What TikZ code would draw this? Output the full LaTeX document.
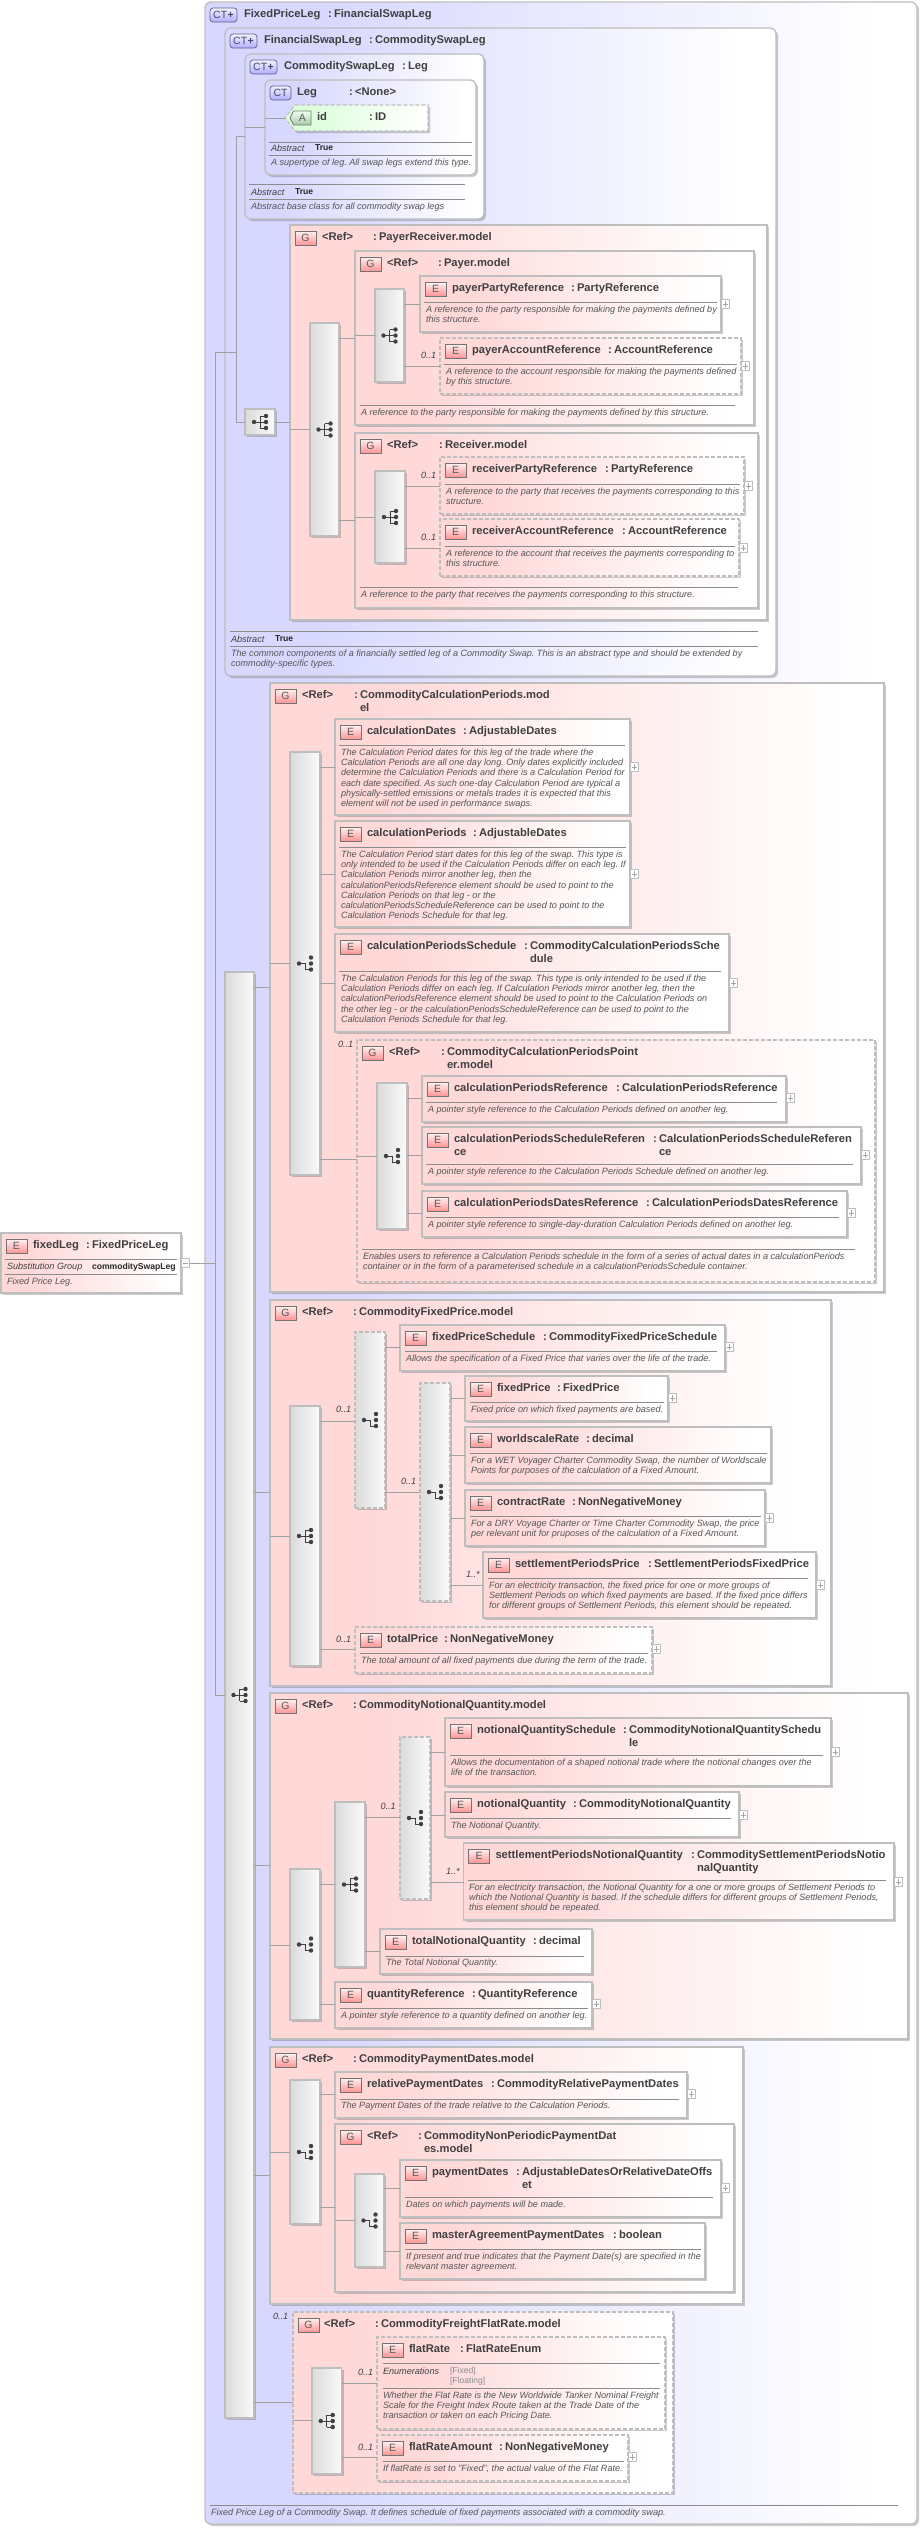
\documentclass[tikz,border=0pt]{standalone}
\usepackage{fontspec}
\setmainfont{Liberation Sans}
\usetikzlibrary{shadows,shapes.symbols}

\definecolor{violettint}{HTML}{D8D8FF}
\definecolor{rosetint}{HTML}{FFD8D8}
\definecolor{greentint}{HTML}{DCFFDC}
\definecolor{panelline}{HTML}{BEBEBE}
\definecolor{wireline}{HTML}{A0A0A0}
\definecolor{inktext}{HTML}{404040}
\definecolor{doctext}{HTML}{555555}
\definecolor{ctline}{HTML}{606088}
\definecolor{ctink}{HTML}{484868}
\pgfdeclarehorizontalshading{violetfade}{100bp}{color(0bp)=(violettint); color(33bp)=(violettint); color(72bp)=(white); color(100bp)=(white)}
\pgfdeclarehorizontalshading{rosefade}{100bp}{color(0bp)=(rosetint); color(33bp)=(rosetint); color(72bp)=(white); color(100bp)=(white)}
\pgfdeclarehorizontalshading{greenfade}{100bp}{color(0bp)=(greentint); color(33bp)=(greentint); color(75bp)=(white); color(100bp)=(white)}
\pgfdeclarehorizontalshading{greyfade}{100bp}{color(0bp)=(black!14); color(25bp)=(black!14); color(75bp)=(black!2); color(100bp)=(black!2)}

\tikzset{
  softshadow/.style={drop shadow={shadow xshift=2pt, shadow yshift=-2pt, fill=black, opacity=.2}},
  ctpanel/.style={draw=panelline, line width=1.3pt, rounded corners=6pt, shading=violetfade, softshadow, inner sep=0pt, outer sep=0pt},
  grouppanel/.style={draw=panelline, line width=1.3pt, shading=rosefade, softshadow, inner sep=0pt, outer sep=0pt},
  elempanel/.style={draw=panelline, line width=1.1pt, shading=rosefade, softshadow, inner sep=0pt, outer sep=0pt},
  optpanel/.style={elempanel, dash pattern=on 4pt off 2pt},
  optgroup/.style={grouppanel, dash pattern=on 4pt off 2pt},
  seqbox/.style={draw=panelline, line width=1.1pt, shading=greyfade, softshadow, inner sep=0pt, outer sep=0pt},
  optseq/.style={seqbox, dash pattern=on 4pt off 2pt},
  attrspot/.style={inner sep=0pt, outer sep=0pt},
  attrpanel/.style={shape=signal, signal to=west, signal pointer angle=105, draw=panelline, line width=1.1pt, dash pattern=on 4pt off 2pt, shading=greenfade, softshadow, inner sep=0pt, outer sep=0pt},
  badge/.style={anchor=north west, inner sep=0pt, outer sep=0pt, minimum height=14pt, draw=black!55, line width=.7pt, text=black!65, font=\fontsize{10.5}{11}\selectfont},
  ebadge/.style={badge, minimum width=21pt, top color=red!5, bottom color=red!42},
  ctbadge/.style={badge, minimum width=21pt, rounded corners=3pt, draw=ctline, text=ctink, top color=blue!5, bottom color=blue!32},
  ctplusbadge/.style={ctbadge, minimum width=27pt},
  abadge/.style={badge, shape=signal, signal to=west, signal pointer angle=127, minimum width=21pt, xshift=3.5pt, top color=green!5, bottom color=green!40!black!35!white},
  boxtitle/.style={anchor=base west, inner sep=0pt, outer sep=0pt, text=inktext, font=\fontsize{11.2}{12.7}\selectfont\bfseries},
  doctxt/.style={anchor=north west, align=left, inner sep=0pt, outer sep=0pt, text=doctext, font=\fontsize{9.1}{10.2}\selectfont\itshape},
  metatxt/.style={anchor=west, inner sep=0pt, outer sep=0pt, text=inktext, font=\fontsize{9.1}{10.2}\selectfont\itshape},
  metabold/.style={anchor=west, inner sep=0pt, outer sep=0pt, text=black!85, font=\fontsize{8.6}{10}\selectfont\bfseries},
  enumtxt/.style={anchor=west, inner sep=0pt, outer sep=0pt, text=black!45, font=\fontsize{8.6}{10}\selectfont},
  docrule/.style={draw=black!45, line width=.7pt},
  wire/.style={draw=wireline, line width=.7pt},
  expandbox/.style={anchor=west, draw=panelline, line width=.7pt, fill=white, minimum size=8.6pt, inner sep=0pt, outer sep=0pt,
    path picture={\draw[black!35, line width=.5pt] ([xshift=1.5pt]path picture bounding box.west) -- ([xshift=-1.5pt]path picture bounding box.east)
      ([yshift=-1.5pt]path picture bounding box.north) -- ([yshift=1.5pt]path picture bounding box.south);}},
  collapsebox/.style={anchor=west, draw=panelline, line width=.7pt, fill=white, minimum size=8.6pt, inner sep=0pt, outer sep=0pt,
    path picture={\draw[black!35, line width=.5pt] ([xshift=1.5pt]path picture bounding box.west) -- ([xshift=-1.5pt]path picture bounding box.east);}},
  fulltree/.pic={
    \fill[inktext] (-6,0) circle (2.2) (6,-6) circle (2.2) (6,0) circle (2.2) (6,6) circle (2.2);
    \draw[inktext, line width=.7pt] (-6,0) -- (0,0) (0,-6) -- (0,6) (0,-6) -- (6,-6) (0,0) -- (6,0) (0,6) -- (6,6);
  },
  lowertree/.pic={
    \fill[inktext] (-6,0) circle (2.2) (6,-6) circle (2.2) (6,0) circle (2.2) (6,6) circle (2.2);
    \draw[inktext, line width=.7pt] (-6,0) -- (0,0) -- (0,6) -- (6,6);
  },
}

\newcommand{\boxpanel}[6]{\node[#1, minimum width={(#5-#3)*1pt}, minimum height={(#6-#4)*1pt}, anchor=north west] (#2) at (#3,#4) {};}
\newcommand{\seqpanel}[7]{\boxpanel{#1}{#2}{#3}{#4}{#5}{#6}\pic at (#2.center) {#7};}
\newcommand{\boxhead}[7]{%
  \node[#2] (#1-icon) at ([shift={(5,6)}]#1.north west) {#3};
  \node[boxtitle] (#1-name) at ([shift={(#4,15.5)}]#1.north west) {#5};
  \node[boxtitle] (#1-colon) at (#1-name.base -| #6,0) {:};
  \node[boxtitle] (#1-type) at (#1-name.base -| #6+6,0) {#7};}
\newcommand{\boxwrap}[3]{\node[boxtitle] (#1) at ([yshift=-12.7pt]#2.base west) {#3};}
\newcommand{\boxdoc}[4]{\node[doctxt] (#1-doc) at (#2,#3-5) {\rule{0pt}{7.4pt}#4};}
\newcommand{\boxrule}[3]{\draw[docrule] (#1,#3) -- (#2,#3);}
\newcommand{\meta}[4]{\node[#1] (#2) at (#3) {#4};}
\newcommand{\occurs}[3]{\node[metatxt] (#1-occurs) at (#2) {#3};}
\newcommand{\wirelink}[3]{\draw[wire] (#1 |- 0,#3) -- (#2 |- 0,#3);}
\newcommand{\expander}[2]{\node[expandbox] (#1-plus) at (#1.east |- 0,#2) {};}
\newcommand{\ctplus}{CT\kern.5pt\textbf{+}}

\begin{document}
\frenchspacing
\begin{tikzpicture}[x=1pt, y=-1pt]
\useasboundingbox (0,0) rectangle (921,2528);

% complex types, nested
\boxpanel{ctpanel}{fixedpriceleg}{205}{2}{917}{2524}
\boxhead{fixedpriceleg}{ctplusbadge}{\ctplus}{39}{FixedPriceLeg}{328}{FinancialSwapLeg}
\boxpanel{ctpanel}{financialswapleg}{225}{28}{776}{676}
\boxhead{financialswapleg}{ctplusbadge}{\ctplus}{39}{FinancialSwapLeg}{369}{CommoditySwapLeg}
\boxpanel{ctpanel}{commodityswapleg}{245}{54}{484}{219}
\boxhead{commodityswapleg}{ctplusbadge}{\ctplus}{39}{CommoditySwapLeg}{402}{Leg}
\boxpanel{ctpanel}{leg}{265}{80}{476}{175}
\boxhead{leg}{ctbadge}{CT}{32}{Leg}{349}{<None>}
\boxpanel{attrspot}{idattr}{285}{105}{428}{131}
\node[attrpanel, minimum width=143pt, minimum height=26pt, anchor=west] (idattr-shape) at (idattr.west) {};
\boxhead{idattr}{abadge}{A}{32}{id}{369}{ID}
\wirelink{leg.west}{idattr.west}{118}
\boxrule{269}{472}{142}
\meta{metatxt}{leg-abstract}{271,148}{Abstract}
\meta{metabold}{leg-true}{315,148}{True}
\boxrule{269}{472}{155}
\boxdoc{leg}{271}{163}{A supertype of leg. All swap legs extend this type.}
\wirelink{commodityswapleg.west}{leg.west}{127}
\boxrule{249}{465}{184}
\meta{metatxt}{commodityswapleg-abstract}{251,192}{Abstract}
\meta{metabold}{commodityswapleg-true}{295,192}{True}
\boxrule{249}{465}{199}
\boxdoc{commodityswapleg}{251}{207}{Abstract base class for all commodity swap legs}

% payer and receiver
\seqpanel{seqbox}{smallseq}{245}{409}{275}{435}{fulltree}
\boxpanel{grouppanel}{payerreceiver}{290}{225}{767}{620}
\boxhead{payerreceiver}{ebadge}{G}{32}{<Ref>}{373}{PayerReceiver.model}
\seqpanel{seqbox}{payerreceiverseq}{310}{323}{339}{536}{fulltree}
\wirelink{smallseq.east}{payerreceiver.west}{422}
\wirelink{payerreceiver.west}{payerreceiverseq.west}{429}

\boxpanel{grouppanel}{payer}{355}{251}{754}{425}
\boxhead{payer}{ebadge}{G}{32}{<Ref>}{438}{Payer.model}
\seqpanel{seqbox}{payerseq}{375}{289}{404}{382}{fulltree}
\wirelink{payerreceiverseq.east}{payer.west}{338}
\wirelink{payer.west}{payerseq.west}{335}
\boxpanel{elempanel}{payerparty}{420}{276}{721}{332}
\boxhead{payerparty}{ebadge}{E}{32}{payerPartyReference}{571}{PartyReference}
\boxrule{424}{717}{302}
\boxdoc{payerparty}{426}{310}{A reference to the party responsible for making the payments defined by\\this structure.}
\expander{payerparty}{304}
\wirelink{payerseq.east}{payerparty.west}{304}
\boxpanel{optpanel}{payeraccount}{440}{338}{741}{394}
\boxhead{payeraccount}{ebadge}{E}{32}{payerAccountReference}{608}{AccountReference}
\boxrule{444}{737}{364}
\boxdoc{payeraccount}{446}{372}{A reference to the account responsible for making the payments defined\\by this structure.}
\expander{payeraccount}{366}
\wirelink{payerseq.east}{payeraccount.west}{366}
\occurs{payeraccount}{421,355}{0..1}
\boxrule{360}{735}{405}
\boxdoc{payer}{361}{413}{A reference to the party responsible for making the payments defined by this structure.}

\boxpanel{grouppanel}{receiver}{355}{433}{758}{608}
\boxhead{receiver}{ebadge}{G}{32}{<Ref>}{439}{Receiver.model}
\seqpanel{seqbox}{receiverseq}{375}{471}{405}{563}{fulltree}
\wirelink{payerreceiverseq.east}{receiver.west}{520}
\wirelink{receiver.west}{receiverseq.west}{517}
\boxpanel{optpanel}{receiverparty}{440}{457}{744}{514}
\boxhead{receiverparty}{ebadge}{E}{32}{receiverPartyReference}{605}{PartyReference}
\boxrule{445}{740}{484}
\boxdoc{receiverparty}{446}{492}{A reference to the party that receives the payments corresponding to this\\structure.}
\expander{receiverparty}{486}
\wirelink{receiverseq.east}{receiverparty.west}{486}
\occurs{receiverparty}{421,475}{0..1}
\boxpanel{optpanel}{receiveraccount}{440}{519}{739}{576}
\boxhead{receiveraccount}{ebadge}{E}{32}{receiverAccountReference}{622}{AccountReference}
\boxrule{445}{735}{546}
\boxdoc{receiveraccount}{446}{554}{A reference to the account that receives the payments corresponding to\\this structure.}
\expander{receiveraccount}{548}
\wirelink{receiverseq.east}{receiveraccount.west}{548}
\occurs{receiveraccount}{421,537}{0..1}
\boxrule{360}{738}{587}
\boxdoc{receiver}{361}{595}{A reference to the party that receives the payments corresponding to this structure.}

\boxrule{230}{758}{631}
\meta{metatxt}{financialswapleg-abstract}{231,639}{Abstract}
\meta{metabold}{financialswapleg-true}{275,639}{True}
\boxrule{230}{758}{646}
\boxdoc{financialswapleg}{231}{654}{The common components of a financially settled leg of a Commodity Swap. This is an abstract type and should be extended by\\commodity-specific types.}

% main sequence
\seqpanel{seqbox}{mainseq}{225}{972}{254}{2418}{fulltree}

% calculation periods
\boxpanel{grouppanel}{calcperiods}{270}{683}{884}{1292}
\boxhead{calcperiods}{ebadge}{G}{32}{<Ref>}{354}{CommodityCalculationPeriods.mod}
\boxwrap{calcperiods-more}{calcperiods-type}{el}
\seqpanel{seqbox}{calcseq}{290}{752}{320}{1175}{lowertree}
\wirelink{mainseq.east}{calcperiods.west}{987}
\wirelink{calcperiods.west}{calcseq.west}{963}
\boxpanel{elempanel}{calcdates}{335}{719}{630}{815}
\boxhead{calcdates}{ebadge}{E}{32}{calculationDates}{463}{AdjustableDates}
\boxrule{339}{625}{745}
\boxdoc{calcdates}{341}{753}{The Calculation Period dates for this leg of the trade where the\\Calculation Periods are all one day long. Only dates explicitly included\\determine the Calculation Periods and there is a Calculation Period for\\each date specified. As such one-day Calculation Period are typical a\\physically-settled emissions or metals trades it is expected that this\\element will not be used in performance swaps.}
\expander{calcdates}{767}
\wirelink{calcseq.east}{calcdates.west}{767}
\boxpanel{elempanel}{calcper}{335}{821}{630}{927}
\boxhead{calcper}{ebadge}{E}{32}{calculationPeriods}{473}{AdjustableDates}
\boxrule{339}{626}{847}
\boxdoc{calcper}{341}{855}{The Calculation Period start dates for this leg of the swap. This type is\\only intended to be used if the Calculation Periods differ on each leg. If\\Calculation Periods mirror another leg, then the\\calculationPeriodsReference element should be used to point to the\\Calculation Periods on that leg - or the\\calculationPeriodsScheduleReference can be used to point to the\\Calculation Periods Schedule for that leg.}
\expander{calcper}{874}
\wirelink{calcseq.east}{calcper.west}{874}
\boxpanel{elempanel}{calcsched}{335}{934}{729}{1032}
\boxhead{calcsched}{ebadge}{E}{32}{calculationPeriodsSchedule}{524}{CommodityCalculationPeriodsSche}
\boxwrap{calcsched-more}{calcsched-type}{dule}
\boxrule{339}{721}{971}
\boxdoc{calcsched}{341}{979}{The Calculation Periods for this leg of the swap. This type is only intended to be used if the\\Calculation Periods differ on each leg. If Calculation Periods mirror another leg, then the\\calculationPeriodsReference element should be used to point to the Calculation Periods on\\the other leg - or the calculationPeriodsScheduleReference can be used to point to the\\Calculation Periods Schedule for that leg.}
\expander{calcsched}{983}
\wirelink{calcseq.east}{calcsched.west}{983}

\boxpanel{optgroup}{pointer}{357}{1040}{875}{1282}
\boxhead{pointer}{ebadge}{G}{32}{<Ref>}{441}{CommodityCalculationPeriodsPoint}
\boxwrap{pointer-more}{pointer-type}{er.model}
\occurs{pointer}{338,1044}{0..1}
\seqpanel{seqbox}{pointerseq}{377}{1083}{407}{1229}{lowertree}
\wirelink{calcseq.east}{pointer.west}{1159}
\wirelink{pointer.west}{pointerseq.west}{1156}
\boxpanel{elempanel}{pointerref}{422}{1076}{786}{1122}
\boxhead{pointerref}{ebadge}{E}{32}{calculationPeriodsReference}{616}{CalculationPeriodsReference}
\boxrule{426}{777}{1102}
\boxdoc{pointerref}{428}{1110}{A pointer style reference to the Calculation Periods defined on another leg.}
\expander{pointerref}{1098}
\wirelink{pointerseq.east}{pointerref.west}{1098}
\boxpanel{elempanel}{pointersched}{422}{1127}{861}{1184}
\boxhead{pointersched}{ebadge}{E}{32}{calculationPeriodsScheduleReferen}{653}{CalculationPeriodsScheduleReferen}
\boxwrap{pointersched-more}{pointersched-name}{ce}
\boxwrap{pointersched-tail}{pointersched-type}{ce}
\boxrule{426}{853}{1164}
\boxdoc{pointersched}{428}{1172}{A pointer style reference to the Calculation Periods Schedule defined on another leg.}
\expander{pointersched}{1155}
\wirelink{pointerseq.east}{pointersched.west}{1155}
\boxpanel{elempanel}{pointerdates}{422}{1191}{847}{1237}
\boxhead{pointerdates}{ebadge}{E}{32}{calculationPeriodsDatesReference}{646}{CalculationPeriodsDatesReference}
\boxrule{426}{839}{1217}
\boxdoc{pointerdates}{428}{1225}{A pointer style reference to single-day-duration Calculation Periods defined on another leg.}
\expander{pointerdates}{1213}
\wirelink{pointerseq.east}{pointerdates.west}{1213}
\boxrule{362}{855}{1249}
\boxdoc{pointer}{363}{1257}{Enables users to reference a Calculation Periods schedule in the form of a series of actual dates in a calculationPeriods\\container or in the form of a parameterised schedule in a calculationPeriodsSchedule container.}

% fixed price
\boxpanel{grouppanel}{fixedmodel}{270}{1300}{831}{1686}
\boxhead{fixedmodel}{ebadge}{G}{32}{<Ref>}{353}{CommodityFixedPrice.model}
\seqpanel{seqbox}{fixedseq}{290}{1406}{320}{1666}{fulltree}
\wirelink{mainseq.east}{fixedmodel.west}{1492}
\wirelink{fixedmodel.west}{fixedseq.west}{1536}
\seqpanel{optseq}{fixedchoice}{355}{1332}{385}{1508}{lowertree}
\wirelink{fixedseq.east}{fixedchoice.west}{1421}
\occurs{fixedchoice}{336,1409}{0..1}
\boxpanel{elempanel}{fixedschedule}{400}{1325}{725}{1371}
\boxhead{fixedschedule}{ebadge}{E}{32}{fixedPriceSchedule}{543}{CommodityFixedPriceSchedule}
\boxrule{405}{717}{1351}
\boxdoc{fixedschedule}{406}{1359}{Allows the specification of a Fixed Price that varies over the life of the trade.}
\expander{fixedschedule}{1347}
\wirelink{fixedchoice.east}{fixedschedule.west}{1347}
\seqpanel{optseq}{fixedinner}{420}{1383}{450}{1601}{lowertree}
\wirelink{fixedchoice.east}{fixedinner.west}{1492}
\occurs{fixedinner}{401,1481}{0..1}
\boxpanel{elempanel}{fixedprice}{465}{1376}{668}{1421}
\boxhead{fixedprice}{ebadge}{E}{32}{fixedPrice}{557}{FixedPrice}
\boxrule{470}{664}{1402}
\boxdoc{fixedprice}{471}{1410}{Fixed price on which fixed payments are based.}
\expander{fixedprice}{1398}
\wirelink{fixedinner.east}{fixedprice.west}{1398}
\boxpanel{elempanel}{worldscale}{465}{1427}{771}{1483}
\boxhead{worldscale}{ebadge}{E}{32}{worldscaleRate}{586}{decimal}
\boxrule{470}{767}{1453}
\boxdoc{worldscale}{471}{1461}{For a WET Voyager Charter Commodity Swap, the number of Worldscale\\Points for purposes of the calculation of a Fixed Amount.}
\wirelink{fixedinner.east}{worldscale.west}{1455}
\boxpanel{elempanel}{contractrate}{465}{1490}{765}{1546}
\boxhead{contractrate}{ebadge}{E}{32}{contractRate}{572}{NonNegativeMoney}
\boxrule{470}{761}{1516}
\boxdoc{contractrate}{471}{1524}{For a DRY Voyage Charter or Time Charter Commodity Swap, the price\\per relevant unit for pruposes of the calculation of a Fixed Amount.}
\expander{contractrate}{1518}
\wirelink{fixedinner.east}{contractrate.west}{1518}
\boxpanel{elempanel}{settlementprice}{483}{1552}{816}{1618}
\boxhead{settlementprice}{ebadge}{E}{32}{settlementPeriodsPrice}{648}{SettlementPeriodsFixedPrice}
\boxrule{488}{808}{1578}
\boxdoc{settlementprice}{489}{1586}{For an electricity transaction, the fixed price for one or more groups of\\Settlement Periods on which fixed payments are based. If the fixed price differs\\for different groups of Settlement Periods, this element should be repeated.}
\expander{settlementprice}{1585}
\wirelink{fixedinner.east}{settlementprice.west}{1585}
\occurs{settlementprice}{466,1574}{1..*}
\boxpanel{optpanel}{totalprice}{355}{1627}{652}{1673}
\boxhead{totalprice}{ebadge}{E}{32}{totalPrice}{444}{NonNegativeMoney}
\boxrule{360}{648}{1653}
\boxdoc{totalprice}{361}{1661}{The total amount of all fixed payments due during the term of the trade.}
\expander{totalprice}{1649}
\wirelink{fixedseq.east}{totalprice.west}{1649}
\occurs{totalprice}{336,1639}{0..1}

% notional quantity
\boxpanel{grouppanel}{notionalmodel}{270}{1693}{908}{2039}
\boxhead{notionalmodel}{ebadge}{G}{32}{<Ref>}{353}{CommodityNotionalQuantity.model}
\seqpanel{seqbox}{notionalseq}{290}{1869}{320}{2020}{lowertree}
\wirelink{mainseq.east}{notionalmodel.west}{1865}
\wirelink{notionalmodel.west}{notionalseq.west}{1945}
\seqpanel{seqbox}{notionalinner}{335}{1802}{365}{1967}{fulltree}
\wirelink{notionalseq.east}{notionalinner.west}{1884}
\seqpanel{optseq}{notionalchoice}{400}{1737}{430}{1899}{lowertree}
\wirelink{notionalinner.east}{notionalchoice.west}{1817}
\occurs{notionalchoice}{380.5,1806}{0..1}
\boxpanel{elempanel}{notionalschedule}{445}{1718}{831}{1786}
\boxhead{notionalschedule}{ebadge}{E}{32}{notionalQuantitySchedule}{623}{CommodityNotionalQuantitySchedu}
\boxwrap{notionalschedule-more}{notionalschedule-type}{le}
\boxrule{450}{823}{1755}
\boxdoc{notionalschedule}{451}{1763}{Allows the documentation of a shaped notional trade where the notional changes over the\\life of the transaction.}
\expander{notionalschedule}{1752}
\wirelink{notionalchoice.east}{notionalschedule.west}{1752}
\boxpanel{elempanel}{notionalqty}{445}{1792}{739}{1837}
\boxhead{notionalqty}{ebadge}{E}{32}{notionalQuantity}{573}{CommodityNotionalQuantity}
\boxrule{450}{731}{1818}
\boxdoc{notionalqty}{451}{1826}{The Notional Quantity.}
\expander{notionalqty}{1815}
\wirelink{notionalchoice.east}{notionalqty.west}{1815}
\boxpanel{elempanel}{settlementqty}{463.5}{1843}{894}{1920}
\boxhead{settlementqty}{ebadge}{E}{32}{settlementPeriodsNotionalQuantity}{691}{CommoditySettlementPeriodsNotio}
\boxwrap{settlementqty-more}{settlementqty-type}{nalQuantity}
\boxrule{468}{886}{1880}
\boxdoc{settlementqty}{469}{1888}{For an electricity transaction, the Notional Quantity for a one or more groups of Settlement Periods to\\which the Notional Quantity is based. If the schedule differs for different groups of Settlement Periods,\\this element should be repeated.}
\expander{settlementqty}{1882}
\wirelink{notionalchoice.east}{settlementqty.west}{1882}
\occurs{settlementqty}{446,1871}{1..*}
\boxpanel{elempanel}{totalqty}{380}{1929}{592}{1974}
\boxhead{totalqty}{ebadge}{E}{32}{totalNotionalQuantity}{533}{decimal}
\boxrule{385}{584}{1956}
\boxdoc{totalqty}{386}{1963}{The Total Notional Quantity.}
\wirelink{notionalinner.east}{totalqty.west}{1951}
\boxpanel{elempanel}{quantityref}{335}{1982}{592}{2028}
\boxhead{quantityref}{ebadge}{E}{32}{quantityReference}{472}{QuantityReference}
\boxrule{340}{588}{2008}
\boxdoc{quantityref}{341}{2016}{A pointer style reference to a quantity defined on another leg.}
\expander{quantityref}{2004}
\wirelink{notionalseq.east}{quantityref.west}{2004}

% payment dates
\boxpanel{grouppanel}{paymentmodel}{270}{2047}{743}{2304}
\boxhead{paymentmodel}{ebadge}{G}{32}{<Ref>}{353}{CommodityPaymentDates.model}
\seqpanel{seqbox}{paymentseq}{290}{2080}{320}{2224}{lowertree}
\wirelink{mainseq.east}{paymentmodel.west}{2175}
\wirelink{paymentmodel.west}{paymentseq.west}{2152}
\boxpanel{elempanel}{relativedates}{335}{2072}{687}{2118}
\boxhead{relativedates}{ebadge}{E}{32}{relativePaymentDates}{491}{CommodityRelativePaymentDates}
\boxrule{340}{679}{2099}
\boxdoc{relativedates}{341}{2106}{The Payment Dates of the trade relative to the Calculation Periods.}
\expander{relativedates}{2094}
\wirelink{paymentseq.east}{relativedates.west}{2094}
\boxpanel{grouppanel}{nonperiodic}{335}{2124}{734}{2292}
\boxhead{nonperiodic}{ebadge}{G}{32}{<Ref>}{418}{CommodityNonPeriodicPaymentDat}
\boxwrap{nonperiodic-more}{nonperiodic-type}{es.model}
\wirelink{paymentseq.east}{nonperiodic.west}{2207}
\seqpanel{seqbox}{nonperiodicseq}{355}{2174}{384}{2267}{lowertree}
\wirelink{nonperiodic.west}{nonperiodicseq.west}{2220}
\boxpanel{elempanel}{paymentdates}{400}{2160}{721}{2217}
\boxhead{paymentdates}{ebadge}{E}{32}{paymentDates}{516}{AdjustableDatesOrRelativeDateOffs}
\boxwrap{paymentdates-more}{paymentdates-type}{et}
\boxrule{405}{713}{2197}
\boxdoc{paymentdates}{406}{2205}{Dates on which payments will be made.}
\expander{paymentdates}{2188}
\wirelink{nonperiodicseq.east}{paymentdates.west}{2188}
\boxpanel{elempanel}{masterdates}{400}{2223}{705}{2279}
\boxhead{masterdates}{ebadge}{E}{32}{masterAgreementPaymentDates}{613}{boolean}
\boxrule{405}{701}{2249}
\boxdoc{masterdates}{406}{2257}{If present and true indicates that the Payment Date(s) are specified in the\\relevant master agreement.}
\wirelink{nonperiodicseq.east}{masterdates.west}{2251}

% flat rate
\boxpanel{optgroup}{flatmodel}{293}{2312}{673}{2493}
\boxhead{flatmodel}{ebadge}{G}{31}{<Ref>}{375}{CommodityFreightFlatRate.model}
\occurs{flatmodel}{273,2316}{0..1}
\seqpanel{seqbox}{flatseq}{312}{2368}{341.5}{2474}{fulltree}
\wirelink{mainseq.east}{flatmodel.west}{2402}
\wirelink{flatmodel.west}{flatseq.west}{2420}
\boxpanel{optpanel}{flatrate}{377}{2337}{665}{2429}
\boxhead{flatrate}{ebadge}{E}{32}{flatRate}{460}{FlatRateEnum}
\boxrule{383}{660}{2363}
\meta{metatxt}{flatrate-enumerations}{383,2371}{Enumerations}
\meta{enumtxt}{flatrate-fixed}{450,2371}{[Fixed]}
\meta{enumtxt}{flatrate-floating}{450,2381}{[Floating]}
\boxrule{383}{660}{2388}
\boxdoc{flatrate}{383}{2396}{Whether the Flat Rate is the New Worldwide Tanker Nominal Freight\\Scale for the Freight Index Route taken at the Trade Date of the\\transaction or taken on each Pricing Date.}
\wirelink{flatseq.east}{flatrate.west}{2383}
\occurs{flatrate}{358,2372}{0..1}
\boxpanel{optpanel}{flatamount}{377}{2435}{628}{2481}
\boxhead{flatamount}{ebadge}{E}{32}{flatRateAmount}{499}{NonNegativeMoney}
\boxrule{383}{624}{2461}
\boxdoc{flatamount}{383}{2469}{If flatRate is set to "Fixed", the actual value of the Flat Rate.}
\expander{flatamount}{2457}
\wirelink{flatseq.east}{flatamount.west}{2457}
\occurs{flatamount}{358,2447}{0..1}

\boxrule{210}{898}{2505}
\boxdoc{fixedpriceleg}{211}{2513}{Fixed Price Leg of a Commodity Swap. It defines schedule of fixed payments associated with a commodity swap.}

% root element
\boxpanel{elempanel}{fixedleg}{1}{1233}{181}{1293}
\boxhead{fixedleg}{ebadge}{E}{32}{fixedLeg}{86}{FixedPriceLeg}
\boxrule{5}{177}{1259}
\meta{metatxt}{fixedleg-subst}{7,1267}{Substitution Group}
\meta{metabold}{fixedleg-group}{92,1267}{commoditySwapLeg}
\boxrule{5}{177}{1274}
\boxdoc{fixedleg}{7}{1282}{Fixed Price Leg.}
\node[collapsebox] (fixedleg-minus) at (fixedleg.east |- 0,1263) {};

% tree lines
\coordinate (branch) at (236,0);
\coordinate (trunk) at (215,0);
\draw[wire] (commodityswapleg.west |- 0,136) -- (branch |- 0,136) -- (branch |- 0,422) -- (smallseq.west |- 0,422);
\draw[wire] (branch |- 0,352) -- (trunk |- 0,352) -- (trunk |- 0,1695) -- (mainseq.west |- 0,1695);
\draw[wire] (fixedleg-minus.east |- 0,1263) -- (trunk |- 0,1263);
\end{tikzpicture}
\end{document}
